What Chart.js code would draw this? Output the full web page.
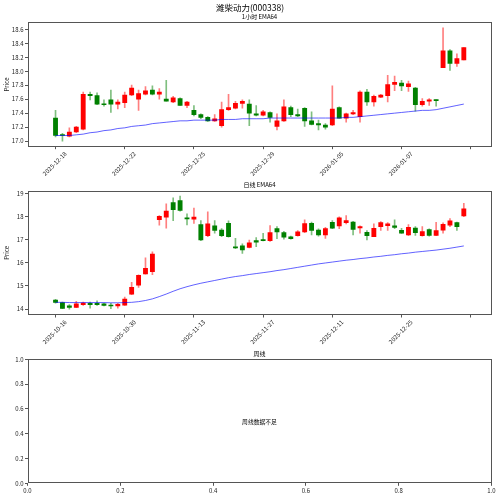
<!DOCTYPE html>
<html><head><meta charset="utf-8">
<script src="https://cdn.jsdelivr.net/npm/chart.js@4.4.1/dist/chart.umd.min.js"></script>
<style>
html,body{margin:0;padding:0;background:#fff;}
#wrap{position:relative;width:500px;height:497px;overflow:hidden;background:#fff;}
canvas{position:absolute;left:0;top:0;}
</style></head><body>
<div id="wrap">
<canvas id="c1" width="500" height="497"></canvas>
<canvas id="c2" width="500" height="497"></canvas>
<canvas id="c3" width="500" height="497"></canvas>
</div>
<script>
// ---------- Hourly (1小时) data ----------
const hourOpen  = [17.33,17.09,17.07,17.13,17.17,17.67,17.65,17.53,17.59,17.53,17.55,17.66,17.60,17.67,17.73,17.67,17.60,17.56,17.61,17.51,17.44,17.38,17.34,17.29,17.22,17.45,17.47,17.54,17.53,17.39,17.37,17.41,17.21,17.29,17.48,17.38,17.47,17.29,17.25,17.23,17.23,17.48,17.33,17.39,17.35,17.70,17.56,17.63,17.65,17.81,17.83,17.78,17.76,17.52,17.57,17.59,18.05,18.29,18.11,18.16];
const hourHigh  = [17.44,17.11,17.19,17.21,17.70,17.70,17.69,17.59,17.73,17.59,17.70,17.80,17.73,17.78,17.79,17.75,17.87,17.64,17.62,17.57,17.51,17.39,17.35,17.38,17.56,17.67,17.57,17.59,17.59,17.51,17.44,17.42,17.39,17.59,17.50,17.46,17.48,17.42,17.30,17.25,17.79,17.49,17.40,17.44,17.72,17.74,17.66,17.67,17.94,17.93,17.87,17.86,17.77,17.61,17.61,17.59,18.62,18.31,18.25,18.34];
const hourLow   = [17.06,17.00,17.06,17.12,17.16,17.59,17.52,17.50,17.41,17.46,17.48,17.65,17.44,17.66,17.66,17.60,17.57,17.55,17.51,17.48,17.36,17.32,17.28,17.28,17.20,17.44,17.46,17.47,17.22,17.36,17.36,17.27,17.16,17.28,17.35,17.35,17.21,17.23,17.16,17.17,17.22,17.33,17.27,17.38,17.27,17.51,17.50,17.62,17.56,17.72,17.72,17.71,17.43,17.50,17.51,17.50,18.05,18.01,18.07,18.16];
const hourClose = [17.08,17.08,17.13,17.20,17.67,17.65,17.53,17.52,17.53,17.56,17.66,17.76,17.68,17.72,17.67,17.70,17.57,17.62,17.51,17.56,17.38,17.34,17.29,17.32,17.45,17.48,17.54,17.57,17.40,17.37,17.42,17.34,17.29,17.49,17.38,17.36,17.29,17.24,17.23,17.20,17.46,17.33,17.39,17.41,17.70,17.56,17.64,17.66,17.81,17.84,17.79,17.82,17.52,17.57,17.59,17.58,18.29,18.11,18.18,18.34];
const hourEma   = [17.08,17.08,17.08,17.09,17.10,17.12,17.13,17.15,17.16,17.18,17.19,17.21,17.22,17.23,17.25,17.26,17.27,17.28,17.29,17.29,17.30,17.30,17.30,17.30,17.31,17.31,17.31,17.32,17.32,17.32,17.32,17.33,17.33,17.33,17.33,17.33,17.33,17.33,17.33,17.33,17.33,17.33,17.34,17.34,17.35,17.36,17.37,17.38,17.39,17.40,17.41,17.42,17.43,17.44,17.44,17.45,17.47,17.49,17.51,17.53];
const hourTickIdx    = [0,10,20,30,40,50,60];
const hourTickLabels = ['2025-12-18','2025-12-22','2025-12-25','2025-12-29','2026-01-05','2026-01-07',''];
const hourYTicks     = [17.0,17.2,17.4,17.6,17.8,18.0,18.2,18.4,18.6];

// ---------- Daily (日线) data ----------
const dayOpen  = [14.39,14.28,14.14,14.07,14.19,14.25,14.25,14.22,14.17,14.13,14.17,14.65,15.04,15.52,15.62,17.88,17.99,18.62,18.71,17.96,17.90,17.67,17.19,17.61,17.43,17.72,16.70,16.74,16.68,16.97,17.00,16.97,17.49,17.32,17.14,17.19,17.35,17.72,17.43,17.22,17.77,17.61,17.75,17.78,17.52,17.33,17.14,17.58,17.62,17.61,17.42,17.22,17.52,17.19,17.45,17.20,17.42,17.64,17.75,18.04];
const dayHigh  = [14.42,14.30,14.19,14.33,14.30,14.30,14.36,14.25,14.25,14.25,14.52,15.16,15.49,16.22,16.48,18.06,18.57,18.83,18.91,18.13,18.38,17.84,18.22,17.84,17.49,17.83,17.07,16.83,17.00,17.10,17.29,17.62,17.58,17.38,17.17,17.41,17.87,17.78,17.48,17.55,17.84,18.01,18.06,17.81,17.61,17.41,17.70,17.80,17.75,17.87,17.51,17.67,17.58,17.58,17.48,17.77,17.74,17.93,17.78,18.59];
const dayLow   = [14.25,14.01,13.99,14.06,14.16,14.04,14.16,14.13,14.01,14.04,14.16,14.62,14.94,15.51,15.49,17.64,17.51,17.84,18.25,17.65,17.72,16.97,17.14,17.29,17.14,17.12,16.62,16.42,16.65,16.71,16.96,16.94,17.06,17.03,17.03,17.17,17.32,17.22,17.17,17.07,17.49,17.49,17.70,17.22,17.29,17.00,17.14,17.41,17.41,17.49,17.28,17.19,17.20,17.17,17.17,17.19,17.29,17.58,17.41,18.01];
const dayClose = [14.29,14.03,14.07,14.22,14.26,14.19,14.19,14.16,14.13,14.20,14.43,14.94,15.46,15.77,16.39,18.03,18.26,18.32,18.28,17.91,17.99,17.00,17.70,17.41,17.19,17.14,16.65,16.57,16.88,16.90,16.97,17.32,17.35,17.12,17.06,17.35,17.71,17.41,17.22,17.49,17.51,17.96,17.84,17.46,17.58,17.19,17.51,17.75,17.70,17.54,17.30,17.55,17.32,17.36,17.20,17.41,17.68,17.83,17.58,18.35];
const dayEma   = [14.29,14.29,14.28,14.28,14.28,14.28,14.28,14.28,14.27,14.27,14.28,14.29,14.32,14.37,14.44,14.54,14.65,14.77,14.88,14.97,15.05,15.12,15.18,15.24,15.30,15.36,15.41,15.45,15.50,15.54,15.58,15.62,15.67,15.71,15.76,15.81,15.86,15.91,15.96,16.00,16.04,16.08,16.12,16.15,16.19,16.22,16.26,16.29,16.33,16.36,16.40,16.43,16.47,16.50,16.53,16.56,16.60,16.64,16.69,16.74];
const dayTickIdx    = [0,10,20,30,40,50,60];
const dayTickLabels = ['2025-10-16','2025-10-30','2025-11-13','2025-11-27','2025-12-11','2025-12-25',''];
const dayYTicks     = [14,15,16,17,18,19];

// ---------- Weekly (周线) ----------
const weekTicks = [0.0,0.2,0.4,0.6,0.8,1.0];

// ---------- styling ----------
const FONT = "'Noto Sans CJK SC','DejaVu Sans',sans-serif";
const TF = 6;    // tick font size
const UP = '#ff0000', DOWN = '#008000';
const UP_W = 'rgba(255,0,0,0.5)', DOWN_W = 'rgba(0,128,0,0.5)';
const AX = '#555';
const XH = 34;   // reserved height of the date axis box (labels are clipped to it)

const boxText = {
  id: 'boxText',
  afterDraw(chart, args, opts) {
    const ctx = chart.ctx, a = chart.chartArea;
    ctx.save();
    ctx.strokeStyle = AX; ctx.lineWidth = 1;
    const l = Math.round(a.left) + 0.5, t = Math.round(a.top) + 0.5;
    const r = Math.round(a.right) - 0.5, b = Math.round(a.bottom) - 0.5;
    ctx.strokeRect(l, t, r - l, b - t);
    (opts.texts || []).forEach(tx => {
      ctx.font = tx.font; ctx.fillStyle = '#000';
      ctx.textAlign = 'center'; ctx.textBaseline = 'middle';
      const x = tx.x === 'area' ? (a.left + a.right) / 2 : tx.x;
      const y = tx.y === 'area' ? (a.top + a.bottom) / 2 : tx.y;
      ctx.fillText(tx.text, x, y);
    });
    ctx.restore();
  }
};

function yAxis(ticks, min, max, dec, withTitle) {
  return {
    type: 'linear', position: 'left', min, max,
    afterBuildTicks: s => { s.ticks = ticks.map(v => ({ value: v })); },
    afterFit: s => { s.width = 27.5; },
    ticks: { font: { family: FONT, size: TF }, color: '#222', padding: 1.5,
             callback: v => dec ? Number(v).toFixed(dec) : String(Math.round(v)) },
    grid: { display: true, drawOnChartArea: false, drawTicks: true, tickLength: 2.5, color: AX },
    border: { display: false },
    title: withTitle ? { display: true, text: 'Price', font: { family: FONT, size: TF }, color: '#222', padding: { top: 3.5, bottom: 0 } } : { display: false }
  };
}

function xDateAxis(tickIdx, tickLabels) {
  return {
    type: 'linear', position: 'bottom', min: -4.05, max: 63.0, offset: false,
    afterBuildTicks: s => { s.ticks = tickIdx.map(v => ({ value: v })); },
    afterFit: s => { s.height = XH; },
    ticks: { font: { family: FONT, size: TF }, color: '#222', padding: 1, autoSkip: false,
             minRotation: 45, maxRotation: 45, labelOffset: 10,
             callback: v => { const k = tickIdx.indexOf(v); return k >= 0 ? tickLabels[k] : ''; } },
    grid: { display: true, drawOnChartArea: false, drawTicks: true, tickLength: 2.5, color: AX, offset: false },
    border: { display: false }
  };
}

function candleChart(id, o, h, l, c, ema, tickIdx, tickLabels, yTicks, yMin, yMax, dec, top, bottom, texts) {
  const isUp = o.map((v, i) => c[i] >= v);
  new Chart(document.getElementById(id), {
    type: 'bar',
    data: {
      datasets: [
        { type: 'line', order: 0, data: ema.map((v, i) => ({ x: i, y: v })),
          borderColor: 'rgba(0,0,255,0.62)', borderWidth: 1, pointRadius: 0, fill: false, tension: 0 },
        { type: 'bar', order: 1, grouped: false, barThickness: 4.2, minBarLength: 1,
          data: o.map((v, i) => ({ x: i, y: [v, c[i]] })),
          backgroundColor: isUp.map(u => u ? UP : DOWN), borderWidth: 0 },
        { type: 'bar', order: 2, grouped: false, barThickness: 1,
          data: l.map((v, i) => ({ x: i, y: [v, h[i]] })),
          backgroundColor: isUp.map(u => u ? UP_W : DOWN_W), borderWidth: 0 }
      ]
    },
    options: {
      responsive: false, animation: false, devicePixelRatio: 1,
      layout: { padding: { left: 0, right: 8.5, top: top, bottom: 497 - bottom - XH } },
      plugins: { legend: { display: false }, tooltip: { enabled: false }, boxText: { texts } },
      scales: { x: xDateAxis(tickIdx, tickLabels), y: yAxis(yTicks, yMin, yMax, dec, true) }
    },
    plugins: [boxText]
  });
}

candleChart('c1', hourOpen, hourHigh, hourLow, hourClose, hourEma, hourTickIdx, hourTickLabels,
  hourYTicks, 16.92, 18.70, 1, 22.3, 146.7,
  [ { text: '潍柴动力(000338)', x: 250, y: 7.8, font: `8.5px ${FONT}` },
    { text: '1小时 EMA64', x: 'area', y: 16.3, font: `6px ${FONT}` } ]);

candleChart('c2', dayOpen, dayHigh, dayLow, dayClose, dayEma, dayTickIdx, dayTickLabels,
  dayYTicks, 13.74, 19.14, 0, 190.7, 315,
  [ { text: '日线 EMA64', x: 'area', y: 185, font: `6px ${FONT}` } ]);

new Chart(document.getElementById('c3'), {
  type: 'scatter',
  data: { datasets: [{ data: [] }] },
  options: {
    responsive: false, animation: false, devicePixelRatio: 1,
    layout: { padding: { left: 0, right: 8.5, top: 359.3, bottom: 497 - 483.3 - 12 } },
    plugins: { legend: { display: false }, tooltip: { enabled: false },
      boxText: { texts: [ { text: '周线', x: 'area', y: 353.3, font: `6px ${FONT}` },
                          { text: '周线数据不足', x: 'area', y: 'area', font: `5.8px ${FONT}` } ] } },
    scales: {
      x: { type: 'linear', min: 0, max: 1,
        afterBuildTicks: s => { s.ticks = weekTicks.map(v => ({ value: v })); },
        afterFit: s => { s.height = 12; },
        ticks: { font: { family: FONT, size: TF }, color: '#222', padding: 1.5, maxRotation: 0, autoSkip: false,
                 callback: v => Number(v).toFixed(1) },
        grid: { display: true, drawOnChartArea: false, drawTicks: true, tickLength: 2.5, color: AX },
        border: { display: false } },
      y: yAxis(weekTicks, 0, 1, 1, false)
    }
  },
  plugins: [boxText]
});
</script>
</body></html>
